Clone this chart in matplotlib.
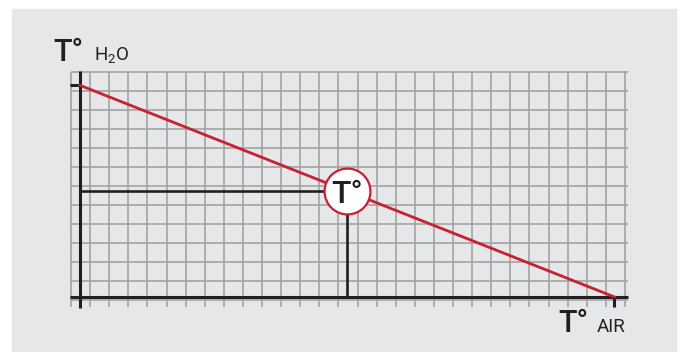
import numpy as np
import matplotlib
matplotlib.use("Agg")
from matplotlib import pyplot as plt
from matplotlib.patches import Rectangle

plt.rcParams['font.family'] = ['Roboto', 'DejaVu Sans']
plt.rcParams['mathtext.fontset'] = 'custom'
plt.rcParams['mathtext.rm'] = 'Roboto'

# grid in "cell" units
grid_x = np.arange(0, 30)
grid_y = np.arange(0, 13)

# axis origin and the heating curve (water temp falls as air temp rises)
origin = (0.47, 0.16)
air = [0.47, 28.45]
water = [11.3, 0.16]

# operating point on the curve
point_air = 14.45
point_water = np.interp(point_air, air, water)

red = '#c8202f'
dark = '#231f20'

fig = plt.figure(figsize=(6.81, 3.52), dpi=100)
fig.add_artist(Rectangle((12 / 681, 0), 664 / 681, 343 / 352,
                         transform=fig.transFigure, color='#e6e7e8', zorder=-5))

ax = fig.add_axes([0.0762, 0.0128, 0.8836, 0.8366])
ax.set_xlim(-1, 30.5)
ax.set_ylim(-2.5, 13)
ax.axis('off')

# grid
ax.vlines(grid_x, -0.37, grid_y[-1], color='#a3a3a3', lw=1.2, zorder=1)
ax.hlines(grid_y, grid_x[0], 29.15, color='#a3a3a3', lw=1.2, zorder=1)

# axes
ax.plot([origin[0], origin[0]], [-0.42, 12.05], color=dark, lw=2.2, zorder=3,
        solid_capstyle='butt')
ax.plot([-0.05, 29.15], [origin[1], origin[1]], color=dark, lw=2.2, zorder=3,
        solid_capstyle='butt')
ax.plot([-0.05, origin[0]], [water[0], water[0]], color=dark, lw=2.2, zorder=3,
        solid_capstyle='butt')
ax.plot([air[1], air[1]], [origin[1], -0.37], color=dark, lw=2.2, zorder=3,
        solid_capstyle='butt')

# guides to operating point
ax.plot([origin[0], point_air], [point_water, point_water], color=dark, lw=1.9, zorder=3)
ax.plot([point_air, point_air], [point_water, origin[1]], color=dark, lw=1.9, zorder=3)

# curve
ax.plot(air, water, color=red, lw=2.0, zorder=4)

# marker
ax.plot(point_air, point_water, 'o', ms=33, mfc='white', mec=red, mew=1.6, zorder=5)
ax.annotate('T°', xy=(point_air, point_water), xytext=(0, -8.6),
            textcoords='offset points', ha='center', va='baseline',
            fontsize=23, fontweight='medium', color=dark, zorder=6)

# labels
ax.text(-0.94, 12.58, 'T°', fontsize=22, fontweight='medium', color=dark,
        ha='left', va='baseline')
ax.text(1.2, 12.58, r'H$_{\mathregular{2}}$O', fontsize=13.5, color=dark,
        ha='left', va='baseline')
ax.text(25.5, -1.68, 'T°', fontsize=22, fontweight='medium', color=dark,
        ha='left', va='baseline')
ax.text(27.54, -1.68, 'AIR', fontsize=13.5, color=dark, ha='left', va='baseline')

fig.savefig('out.png', dpi=100)
